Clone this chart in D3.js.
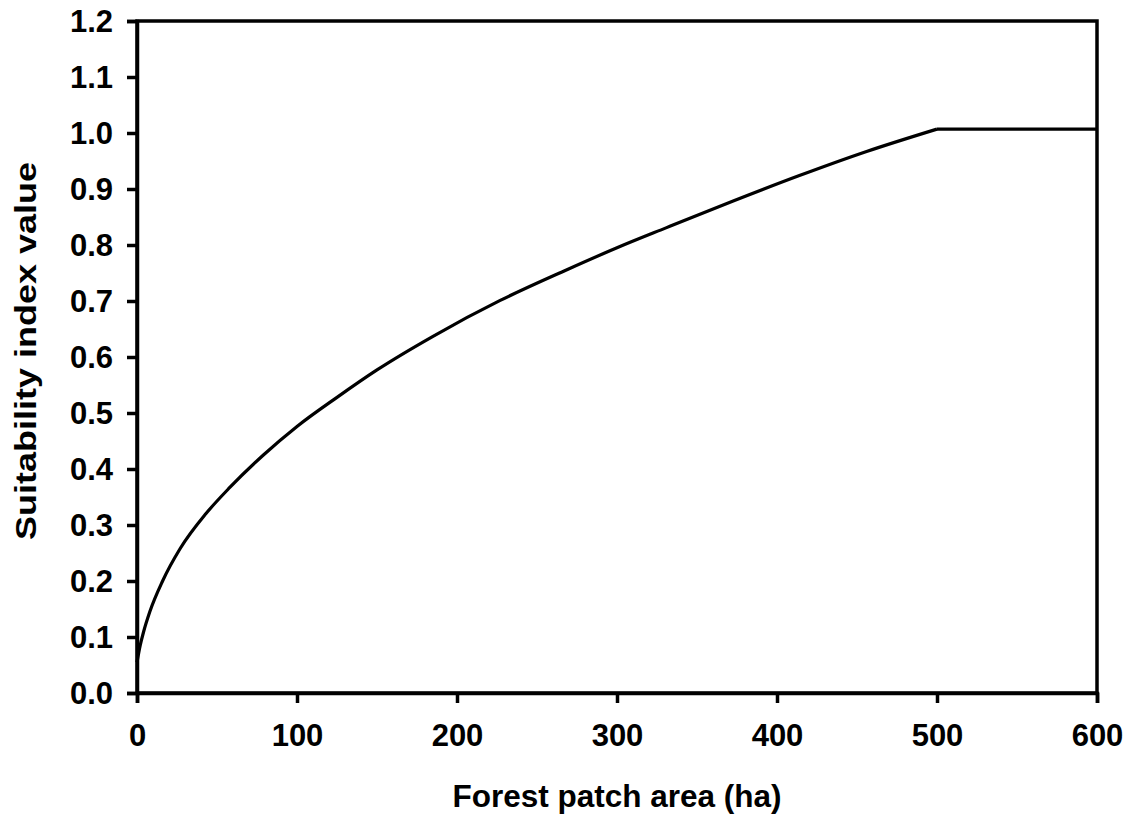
<!DOCTYPE html>
<html>
<head>
<meta charset="utf-8">
<script src="https://cdn.jsdelivr.net/npm/d3@7"></script>
<style>
  html, body { margin: 0; padding: 0; background: #fff; }
  svg { display: block; }
  text { font-family: "Liberation Sans", Arial, sans-serif; font-weight: bold; fill: #000; }
</style>
</head>
<body>
<svg id="chart" width="1133" height="819"></svg>
<script>
// Data
const areaHa = [0, 2, 4, 8, 16, 27, 43, 58, 79, 100, 125, 150, 185, 227, 268, 300, 331, 373, 414, 456, 500];
const suitability = [0.055, 0.085, 0.108, 0.145, 0.200, 0.258, 0.320, 0.367, 0.425, 0.476, 0.528, 0.577, 0.637, 0.701, 0.755, 0.795, 0.831, 0.879, 0.924, 0.967, 1.007];
const plateauArea = [500, 600];
const plateauValue = [1.007, 1.007];
const xTicks = [0, 100, 200, 300, 400, 500, 600];
const yTicks = [0.0, 0.1, 0.2, 0.3, 0.4, 0.5, 0.6, 0.7, 0.8, 0.9, 1.0, 1.1, 1.2];
const xTitle = "Forest patch area (ha)";
const yTitle = "Suitability index value";

const svg = d3.select("#chart");
const margin = { left: 137, right: 36, top: 21, bottom: 126 };
const W = 1133, H = 819;
const x = d3.scaleLinear().domain([0, 600]).range([margin.left, W - margin.right]);
const y = d3.scaleLinear().domain([0, 1.2]).range([H - margin.bottom, margin.top]);

// Plot frame
svg.append("rect")
  .attr("x", x(0)).attr("y", y(1.2))
  .attr("width", x(600) - x(0)).attr("height", y(0) - y(1.2))
  .attr("fill", "none").attr("stroke", "#000").attr("stroke-width", 3.5);

const xAxis = svg.append("g")
  .attr("transform", `translate(0,${y(0)})`)
  .call(d3.axisBottom(x).tickValues(xTicks).tickFormat(d3.format("d")).tickSize(10).tickPadding(21));
const yAxis = svg.append("g")
  .attr("transform", `translate(${x(0)},0)`)
  .call(d3.axisLeft(y).tickValues(yTicks).tickFormat(d3.format(".1f")).tickSize(10).tickPadding(14));

[xAxis, yAxis].forEach(g => {
  g.select(".domain").attr("stroke", "#000").attr("stroke-width", 3.5);
  g.selectAll(".tick line").attr("stroke", "#000").attr("stroke-width", 3.5);
  g.selectAll(".tick text")
    .style("font-family", '"Liberation Sans", Arial, sans-serif')
    .style("font-weight", "bold").style("font-size", "31px").attr("fill", "#000");
});
yAxis.selectAll(".tick text").attr("dy", "0.35em");

// Curve
const pts = areaHa.map((a, i) => [a, suitability[i]]);
const line = d3.line().x(d => x(d[0])).y(d => y(d[1])).curve(d3.curveMonotoneX);
svg.append("path").datum(pts)
  .attr("d", line).attr("fill", "none").attr("stroke", "#000").attr("stroke-width", 3.2)
  .attr("stroke-linejoin", "round");
const plat = plateauArea.map((a, i) => [a, plateauValue[i]]);
svg.append("path").datum(plat)
  .attr("d", d3.line().x(d => x(d[0])).y(d => y(d[1]))).attr("fill", "none")
  .attr("stroke", "#000").attr("stroke-width", 3.2);

// Titles
svg.append("text")
  .attr("x", (x(0) + x(600)) / 2).attr("y", 807)
  .attr("text-anchor", "middle").style("font-size", "31.5px")
  .text(xTitle);
svg.append("text")
  .attr("transform", `translate(36,${(y(0) + y(1.2)) / 2 - 6}) rotate(-90) scale(1.2,1)`)
  .attr("text-anchor", "middle").style("font-size", "30px")
  .text(yTitle);
</script>
</body>
</html>
